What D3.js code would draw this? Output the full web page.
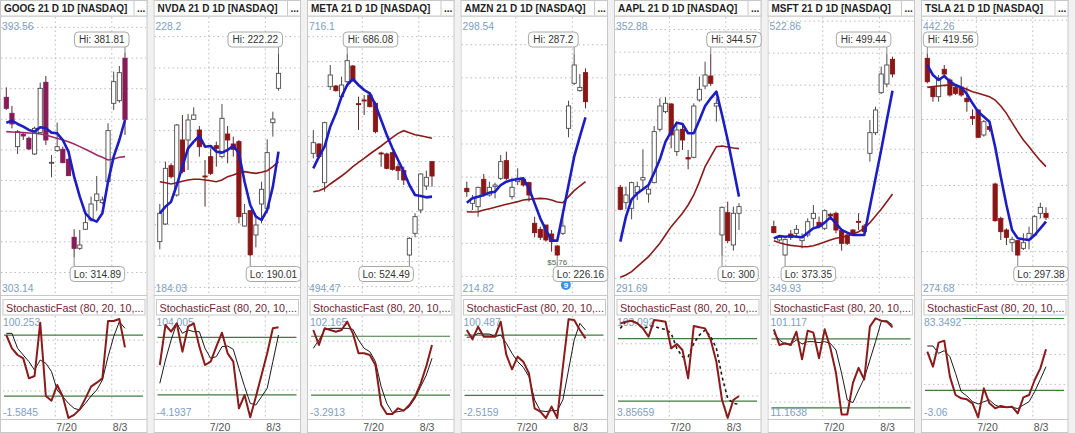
<!DOCTYPE html>
<html><head><meta charset="utf-8">
<script src="https://cdn.jsdelivr.net/npm/d3@7"></script>
<style>
html,body{margin:0;padding:0;background:#fff;}
svg{display:block;font-family:"Liberation Sans",Arial,sans-serif;}
</style></head><body>
<svg id="c" width="1075" height="433"></svg>
<script>
const TICKERS = ["GOOG","NVDA","META","AMZN","AAPL","MSFT","TSLA"];
const TITLE_SUFFIX = " 21 D 1D [NASDAQ]";
const STOCH_TITLE = "StochasticFast (80, 20, 10,...";
const TRADING_DAYS = ["2025-07-08","2025-07-09","2025-07-10","2025-07-11","2025-07-14","2025-07-15","2025-07-16","2025-07-17","2025-07-18","2025-07-21","2025-07-22","2025-07-23","2025-07-24","2025-07-25","2025-07-28","2025-07-29","2025-07-30","2025-07-31","2025-08-01","2025-08-04","2025-08-05","2025-08-06"];
const DATE_TICKS = ["2025-07-20","2025-08-03"];
const DATE_TICK_LABELS = ["7/20","8/3"];
const PRICE_MIN = [303.14,184.03,494.47,214.82,291.69,349.93,274.68];
const PRICE_MAX = [393.56,228.2,716.1,298.54,352.88,522.86,442.26];
const PRICE_MIN_TEXT = ["303.14","184.03","494.47","214.82","291.69","349.93","274.68"];
const PRICE_MAX_TEXT = ["393.56","228.2","716.1","298.54","352.88","522.86","442.26"];
const HI_TEXT = ["381.81","222.22","686.08","287.2","344.57","499.44","419.56"];
const LO_TEXT = ["314.89","190.01","524.49","226.16","300","373.35","297.38"];
const STOCH_MIN = [-1.5845,-4.1937,-3.2913,-2.5159,3.85659,11.1638,-3.06];
const STOCH_MAX = [100.253,104.005,102.165,100.487,103.092,101.117,83.3492];
const STOCH_MIN_TEXT = ["-1.5845","-4.1937","-3.2913","-2.5159","3.85659","11.1638","-3.06"];
const STOCH_MAX_TEXT = ["100.253","104.005","102.165","100.487","103.092","101.117","83.3492"];
const STOCH_LEVELS = [80,20];
const STOCH_GRID = [25,50,75];
const AMZN_NOTE = "$5.76";

// [open, high, low, close]
const GOOG_OHLC = [[367.18,370.44,363.05,363.59],[361.96,364.35,357.06,358.48],[351.08,356.52,348.68,355.98],[355.10,355.65,353.25,354.56],[353.80,354.34,349.99,350.32],[348.68,357.61,348.36,357.06],[355.65,371.97,355.43,370.12],[372.08,374.14,351.62,353.25],[345.86,348.36,341.07,345.96],[349.77,358.91,349.45,351.08],[350.21,351.08,345.64,345.86],[346.94,347.27,341.50,341.61],[321.48,324.10,314.89,317.89],[317.89,323.88,317.35,318.98],[324.10,329.32,323.88,326.27],[327.14,334.76,326.60,332.36],[333.45,341.50,330.19,335.63],[332.80,334.76,332.36,333.67],[339.65,358.69,339.33,356.30],[365.22,375.56,363.05,372.29],[366.09,377.41,365.44,375.23],[379.91,381.81,354.89,360.00]];
const GOOG_FAST = [358.91,359.56,358.48,357.61,356.52,355.98,357.39,357.06,355.65,355.43,353.25,349.45,341.29,334.76,329.32,327.36,326.60,329.32,339.65,347.81,353.25,359.78];
const GOOG_SLOW = [355.98,355.87,355.76,355.65,355.54,355.43,355.21,354.89,354.34,353.80,353.25,352.71,351.95,351.08,350.21,349.34,348.36,347.60,346.73,347.05,347.60,347.82];
const GOOG_K = [80.08,66.96,60.4,57.1,37.44,39.74,92.22,20.06,15.46,30.88,19.4,-1.58,1.5,6.93,17.76,29.24,33.17,37.44,93.86,93.86,95.83,67.94];
const GOOG_D = [81.72,81.72,66.96,60.4,53.84,45.64,55.48,52.2,44.0,25.96,19.4,12.84,7.92,6.28,12.84,20.06,25.96,35.8,58.76,78.44,93.2,86.64];

const NVDA_OHLC = [[192.30,198.30,191.07,196.81],[195.11,205.05,194.95,203.99],[204.41,204.79,202.39,202.66],[199.74,211.06,199.47,210.90],[208.51,212.49,203.19,203.46],[208.51,212.65,203.72,211.70],[211.80,213.72,211.70,212.49],[210.10,210.74,205.85,207.44],[202.77,205.32,197.88,202.61],[205.85,207.18,202.93,203.19],[207.60,208.24,204.26,207.18],[205.85,214.25,205.58,211.96],[209.46,210.74,204.79,208.51],[207.87,209.04,205.85,207.02],[208.24,208.51,195.22,196.28],[194.79,198.30,194.69,196.81],[197.24,197.35,190.01,190.20],[193.36,196.02,191.39,194.95],[198.30,201.86,195.22,200.64],[197.61,208.61,196.81,206.49],[211.27,213.02,209.04,211.85],[216.75,222.22,216.37,219.14]];
const NVDA_FAST = [196.81,197.88,198.67,201.33,204.26,207.18,208.24,209.15,207.44,207.55,206.65,206.49,206.91,207.60,206.38,201.86,198.14,196.28,195.75,197.35,201.07,206.65];
const NVDA_SLOW = [201.86,201.70,201.49,201.70,201.92,202.13,202.24,202.24,202.13,202.02,201.86,202.13,202.66,202.93,203.30,203.46,203.30,203.19,203.35,203.62,204.26,205.05];
const NVDA_K = [51.22,93.03,86.06,94.77,65.15,91.28,94.77,70.38,51.22,54.69,70.38,85.01,63.40,54.69,5.90,19.84,-3.5,18.1,40.75,63.40,89.54,90.59];
const NVDA_D = [32.04,56.43,77.34,94.77,84.31,87.80,86.06,86.06,68.63,58.18,59.92,70.38,71.07,67.59,47.72,28.55,11.13,9.39,18.10,26.81,54.69,82.57];

const META_OHLC = [[606.62,625.29,602.62,615.15],[614.09,614.62,602.62,603.95],[583.15,631.96,575.95,631.15],[659.96,677.29,657.29,669.29],[660.49,661.29,655.96,656.76],[651.96,667.96,649.29,661.29],[663.96,686.08,662.63,680.76],[676.49,677.29,663.96,665.29],[646.36,651.96,625.29,645.82],[649.29,653.29,637.29,648.76],[653.29,654.62,643.42,643.96],[646.62,647.96,622.62,623.96],[606.89,607.95,595.95,606.36],[606.09,607.15,593.82,594.62],[607.15,607.95,592.75,593.82],[595.95,598.62,585.28,592.75],[592.75,595.95,581.28,585.28],[525.28,539.43,524.49,538.62],[542.61,558.62,539.43,555.95],[561.28,590.61,558.62,590.08],[580.48,592.75,577.28,587.42],[599.95,599.95,579.95,588.48]];
const META_FAST = [594.62,603.95,611.95,627.95,638.62,651.96,661.29,666.09,661.29,657.29,654.62,645.29,633.29,621.29,610.62,601.29,591.95,581.28,573.28,572.48,571.41,571.95];
const META_SLOW = [575.95,576.75,578.62,582.09,585.28,588.48,591.95,595.95,599.42,602.62,606.09,609.28,612.48,615.95,619.42,622.62,624.75,623.15,621.55,620.75,619.69,618.62];
const META_K = [86.37,71.09,88.07,86.37,84.67,86.37,94.86,82.98,62.60,62.60,60.90,50.72,9.97,0.8,0.8,6.57,4.19,9.97,18.45,32.03,49.69,71.09];
const META_D = [67.70,76.19,86.37,88.07,88.07,88.07,88.07,87.05,76.19,67.70,64.30,54.12,28.65,11.67,2.16,3.18,4.19,8.27,16.76,28.65,40.53,57.51];

const AMZN_OHLC = [[246.61,248.62,244.09,245.60],[242.07,244.59,240.06,243.58],[241.06,247.11,238.04,246.91],[249.33,250.94,244.09,244.89],[244.59,248.62,244.09,246.91],[247.11,248.32,243.58,247.61],[249.63,256.68,249.13,254.67],[254.97,257.69,249.13,249.63],[244.09,249.63,243.28,246.91],[248.62,252.65,247.61,249.63],[249.33,249.63,247.11,247.61],[248.32,248.62,242.58,244.59],[236.03,238.04,231.80,233.21],[234.21,235.02,230.99,231.80],[235.52,235.52,230.49,230.99],[232.80,234.01,227.46,230.49],[229.17,229.48,226.16,226.46],[233.00,239.55,232.50,235.22],[264.74,273.10,262.02,271.49],[278.34,287.20,277.84,283.88],[276.13,281.16,275.82,277.13],[281.57,282.88,270.79,272.80]];
const AMZN_FAST = [242.27,243.58,244.09,244.59,245.30,245.60,247.61,248.62,249.13,249.33,249.63,246.61,242.07,237.54,234.01,230.79,230.79,239.05,247.61,256.18,262.22,268.06];
const AMZN_SLOW = [239.55,239.45,239.55,240.06,240.46,240.86,241.37,241.77,242.17,242.58,243.08,243.28,243.48,243.58,243.48,243.08,242.48,242.27,244.09,245.90,247.31,248.62];
const AMZN_K = [85.06,75.77,88.38,78.43,78.43,78.43,93.36,60.19,45.92,58.53,53.55,41.94,7.12,3.80,-2.5,8.77,-2.5,48.5,95.68,95.01,85.06,76.77];
const AMZN_D = [77.77,78.43,81.75,81.08,81.08,78.43,80.09,71.80,61.85,53.55,47.91,38.62,15.40,4.80,3.80,4.80,4.80,15.40,45.26,75.11,91.70,85.06];

const AAPL_OHLC = [[315.15,315.66,310.14,310.29],[311.76,315.30,310.29,313.46],[310.51,316.40,308.08,316.18],[313.97,316.40,312.35,315.30],[316.77,323.54,314.93,317.29],[313.68,315.66,311.76,314.71],[316.18,328.70,316.03,327.45],[327.96,334.81,327.45,333.11],[331.86,335.03,331.50,333.70],[333.56,333.70,323.77,326.71],[323.03,329.66,322.07,327.81],[327.96,329.29,323.40,325.60],[321.70,323.40,319.13,321.41],[321.78,333.70,321.56,333.11],[334.44,339.60,334.07,336.80],[337.53,342.91,336.80,339.96],[339.74,344.57,337.53,338.12],[333.11,334.81,329.66,333.70],[304.62,310.88,300.00,310.73],[309.55,311.98,302.78,303.37],[302.41,310.88,301.16,309.41],[309.41,311.62,305.73,310.88]];
const AAPL_FAST = [303.15,308.67,312.50,313.82,314.71,315.66,318.39,321.34,325.24,327.45,329.43,329.14,327.08,327.08,330.02,333.11,334.81,336.28,331.13,325.60,319.35,313.09];
const AAPL_SLOW = [295.27,295.78,296.52,297.63,298.73,299.84,301.31,302.78,304.62,306.46,307.93,309.41,311.25,313.46,316.40,319.71,321.92,324.13,324.28,324.06,323.84,323.69];
const AAPL_K = [94.6,96.2,97.1,94.6,89.8,81.8,97.8,97.1,96.2,70.6,74.8,69.0,41.9,92.0,90.8,89.8,78.6,57.8,21.1,4.0,21.1,24.9];
const AAPL_D = [89.8,96.2,97.1,94.6,89.8,91.4,92.0,89.8,88.8,85.0,70.6,62.6,62.6,75.4,83.4,88.2,81.8,70.6,43.5,22.7,17.9,16.9];

const MSFT_OHLC = [[391.65,395.40,387.49,387.91],[383.33,386.45,382.29,385.00],[373.96,384.37,373.35,383.74],[387.07,389.57,383.33,385.00],[387.49,392.69,385.00,389.99],[382.91,387.49,378.12,385.00],[386.45,396.85,385.00,394.77],[396.85,405.18,391.65,399.98],[394.36,397.90,390.61,391.65],[390.61,402.47,389.57,401.64],[399.35,400.39,395.81,398.31],[399.98,401.02,387.49,389.57],[389.15,390.61,376.67,381.25],[386.45,387.49,380.21,381.25],[389.57,389.99,387.07,387.49],[394.98,399.98,389.57,394.57],[392.07,393.32,387.91,388.53],[437.43,458.25,432.23,450.34],[450.34,466.57,448.88,464.49],[475.31,491.54,474.47,486.96],[480.72,499.44,478.64,492.58],[496.12,497.78,484.88,486.96]];
const MSFT_FAST = [384.37,385.83,385.41,385.83,385.41,385.00,387.91,390.61,391.65,394.15,397.48,393.73,389.57,387.91,386.45,386.45,386.45,404.14,421.82,439.51,458.28,476.56];
const MSFT_SLOW = [382.91,381.66,380.62,379.99,379.58,379.16,379.16,379.79,380.83,382.08,383.33,384.37,384.99,385.83,387.07,388.53,390.61,394.15,398.31,402.47,407.26,412.05];
const MSFT_K = [88.23,74.61,76.06,74.61,86.20,62.15,87.07,85.33,63.02,88.23,72.16,50.43,14.23,14.23,41.74,54.78,44.64,90.54,97.79,95.76,94.89,89.96];
const MSFT_D = [84.75,78.96,75.48,75.48,78.96,75.48,77.51,77.51,76.64,77.51,76.06,70.27,49.99,26.81,24.49,35.50,45.64,61.57,77.51,94.89,95.76,91.99];

const TSLA_OHLC = [[416.95,419.56,401.83,402.83],[399.40,400.21,390.73,393.76],[393.76,406.87,390.73,404.25],[410.29,412.92,406.87,407.47],[403.84,404.85,393.76,394.77],[399.40,400.82,394.77,395.78],[399.40,405.86,393.76,394.77],[392.75,399.40,384.68,390.73],[381.66,386.10,376.62,380.65],[385.69,386.10,368.96,369.16],[370.57,379.64,369.56,378.63],[375.61,376.62,372.58,374.00],[340.92,341.73,318.14,318.74],[320.15,321.16,307.04,312.09],[313.09,314.10,304.02,308.66],[305.43,309.06,299.99,307.45],[306.64,307.04,297.38,297.97],[302.00,311.08,300.99,305.43],[307.45,315.11,301.40,311.08],[310.07,322.17,309.06,321.16],[323.18,329.63,320.15,326.81],[323.18,326.81,319.14,320.76]];
const TSLA_FAST = [412.92,406.87,403.84,406.26,402.83,400.82,399.40,395.37,389.73,384.68,381.66,378.63,363.51,345.36,328.22,313.09,308.05,307.45,307.04,310.07,314.10,318.14];
const TSLA_SLOW = [399.40,399.81,400.21,400.62,400.82,400.62,399.40,398.20,396.78,395.78,394.77,393.76,391.74,388.11,383.68,378.03,372.59,367.54,363.51,359.07,355.04,351.41];
const TSLA_K = [52.32,39.80,59.83,61.50,31.45,16.14,13.36,12.52,9.18,-2.5,21.71,9.18,5.01,6.96,5.85,6.40,0.84,14.19,16.14,28.66,38.40,54.27];
const TSLA_D = [57.05,57.05,50.93,53.15,48.14,34.23,18.92,15.30,10.57,8.62,10.57,11.96,7.79,5.85,5.85,5.85,4.82,7.79,10.57,18.92,29.22,39.80];

const ALL_OHLC = [GOOG_OHLC,NVDA_OHLC,META_OHLC,AMZN_OHLC,AAPL_OHLC,MSFT_OHLC,TSLA_OHLC];
const ALL_FAST = [GOOG_FAST,NVDA_FAST,META_FAST,AMZN_FAST,AAPL_FAST,MSFT_FAST,TSLA_FAST];
const ALL_SLOW = [GOOG_SLOW,NVDA_SLOW,META_SLOW,AMZN_SLOW,AAPL_SLOW,MSFT_SLOW,TSLA_SLOW];
const ALL_K = [GOOG_K,NVDA_K,META_K,AMZN_K,AAPL_K,MSFT_K,TSLA_K];
const ALL_D = [GOOG_D,NVDA_D,META_D,AMZN_D,AAPL_D,MSFT_D,TSLA_D];

// ---------- drawing ----------
const PITCH = 153.5, PW = 147;
const DOWN_COLOR = ["#861c58","#8b1616","#8b1616","#8b1616","#8b1616","#8b1616","#8b1616"];
const SLOW_COLOR = ["#9a2c6c","#8b1a1a","#8b1a1a","#8b1a1a","#8b1a1a","#8b1a1a","#8b1a1a"];
const LABEL_BLUE = "#7d9ec2";
const GRID = "#bdbdbd";
const BORDER = "#c8c8c8";

const parse = d3.timeParse("%Y-%m-%d");
const days = TRADING_DAYS.map(parse);
function dateIndex(d){
  for(let i=0;i<days.length-1;i++){
    if(d>=days[i] && d<=days[i+1]) return i + (d-days[i])/(days[i+1]-days[i]);
  }
  return null;
}
const tickIdx = DATE_TICKS.map(s=>dateIndex(parse(s)));

const svg = d3.select("#c");
svg.append("rect").attr("width",1075).attr("height",433).attr("fill","#f1f1f1");
const defs = svg.append("defs");

TICKERS.forEach((tk,i)=>{
  const ohlc = ALL_OHLC[i], fast = ALL_FAST[i], slow = ALL_SLOW[i], K = ALL_K[i], D = ALL_D[i];
  const g = svg.append("g").attr("transform",`translate(${i*PITCH},0)`);
  const cid = "clip"+i, pid = "pclip"+i, sid = "sclip"+i;
  defs.append("clipPath").attr("id",cid).append("rect").attr("x",0).attr("y",0).attr("width",150).attr("height",433);
  defs.append("clipPath").attr("id",pid).append("rect").attr("x",0).attr("y",16.5).attr("width",PW).attr("height",277.5);
  defs.append("clipPath").attr("id",sid).append("rect").attr("x",0).attr("y",313).attr("width",PW).attr("height",106);

  const x = d3.scaleLinear().domain([0, ohlc.length-1]).range([6.3,125]);
  const y = d3.scaleLinear().domain([PRICE_MIN[i],PRICE_MAX[i]]).range([293.5,16.5]);
  const ys = d3.scaleLinear().domain([STOCH_MIN[i],STOCH_MAX[i]]).range([418,314.5]);

  const root = g.append("g").attr("clip-path",`url(#${cid})`);
  root.append("rect").attr("x",0).attr("y",0).attr("width",PW).attr("height",433).attr("fill","#fff");

  // price grid
  const pg = root.append("g");
  pg.selectAll("line.h").data(y.ticks(10)).join("line")
    .attr("x1",1).attr("x2",PW-1).attr("y1",d=>y(d)).attr("y2",d=>y(d))
    .attr("stroke",GRID).attr("stroke-dasharray","1.5,3");
  pg.selectAll("line.v").data(tickIdx).join("line")
    .attr("x1",d=>x(d)).attr("x2",d=>x(d)).attr("y1",17).attr("y2",293)
    .attr("stroke",GRID).attr("stroke-dasharray","1.5,3");

  // stoch grid
  const sg = root.append("g");
  sg.selectAll("line.h").data(STOCH_GRID).join("line")
    .attr("x1",3).attr("x2",PW-3).attr("y1",d=>ys(d)).attr("y2",d=>ys(d))
    .attr("stroke",GRID).attr("stroke-dasharray","1.5,3");
  sg.selectAll("line.v").data(tickIdx).join("line")
    .attr("x1",d=>x(d)).attr("x2",d=>x(d)).attr("y1",316).attr("y2",418)
    .attr("stroke",GRID).attr("stroke-dasharray","1.5,3");

  // panel frame
  root.append("rect").attr("x",0.5).attr("y",0.5).attr("width",PW-0.5).attr("height",432)
    .attr("fill","none").attr("stroke",BORDER);
  [16,295.5,419.5].forEach(yy=>root.append("line").attr("x1",0).attr("x2",PW).attr("y1",yy).attr("y2",yy).attr("stroke",BORDER));

  // price labels
  root.append("text").attr("x",2).attr("y",30).attr("font-size",10.3).attr("fill",LABEL_BLUE).text(PRICE_MAX_TEXT[i]);
  root.append("text").attr("x",2).attr("y",291.5).attr("font-size",10.3).attr("fill",LABEL_BLUE).text(PRICE_MIN_TEXT[i]);

  // candles
  const pc = root.append("g").attr("clip-path",`url(#${pid})`);
  const cg = pc.selectAll("g.c").data(ohlc).join("g");
  cg.append("line").attr("x1",(d,j)=>x(j)).attr("x2",(d,j)=>x(j))
    .attr("y1",d=>y(d[1])).attr("y2",d=>y(d[2]))
    .attr("stroke",d=>d[3]>=d[0]?"#4a4a4a":"#5a2a2a").attr("stroke-width",1);
  cg.append("rect").attr("x",(d,j)=>x(j)-2.1).attr("width",4.2)
    .attr("y",d=>Math.min(y(d[0]),y(d[3])))
    .attr("height",d=>Math.max(1,Math.abs(y(d[0])-y(d[3]))))
    .attr("fill",d=>d[3]>=d[0]?"#fff":DOWN_COLOR[i])
    .attr("stroke",d=>d[3]>=d[0]?"#4a4a4a":DOWN_COLOR[i]).attr("stroke-width",0.9);

  pc.append("path").datum(slow).attr("d",d3.line().x((d,j)=>x(j)).y(d=>y(d))).attr("fill","none")
    .attr("stroke",SLOW_COLOR[i]).attr("stroke-width",1.6);
  pc.append("path").datum(fast).attr("d",d3.line().x((d,j)=>x(j)).y(d=>y(d))).attr("fill","none")
    .attr("stroke","#1d1dc4").attr("stroke-width",2.6).attr("stroke-linejoin","round");

  // AMZN extras
  if(tk==="AMZN"){
    const li = d3.minIndex(ohlc,d=>d[2]);
    root.append("text").attr("x",x(li)).attr("y",y(ohlc[li][2])+9).attr("text-anchor","middle")
      .attr("font-size",8).attr("fill","#4f6b4f").text(AMZN_NOTE);
    root.append("circle").attr("cx",x(li+1)+3).attr("cy",285).attr("r",5).attr("fill","#3d8fe0");
    root.append("text").attr("x",x(li+1)+3).attr("y",288).attr("text-anchor","middle")
      .attr("font-size",8).attr("font-weight","bold").attr("fill","#fff").text("9");
  }

  // Hi / Lo callouts
  function callout(idx, val, txt, isHi){
    const cx = x(idx), vy = y(val);
    const t = (isHi?"Hi: ":"Lo: ")+txt;
    const tw = t.length*4.75 + 7;
    const right = cx + tw - 4 <= 150;
    const bx = right ? cx - 4 : cx + 4 - tw;
    const by = isHi ? 32 : 266.5;
    const bh = 15;
    const px = right ? bx + 4 : bx + tw - 4;
    root.append("line").attr("x1",px).attr("x2",cx).attr("y1",isHi?by+bh:by).attr("y2",vy)
      .attr("stroke","#8a8a8a").attr("stroke-width",1);
    root.append("rect").attr("x",bx).attr("y",by).attr("width",tw).attr("height",bh).attr("rx",4)
      .attr("fill","#fff").attr("stroke","#a8a8a8");
    root.append("text").attr("x",bx+tw/2).attr("y",by+11).attr("text-anchor","middle")
      .attr("font-size",10).attr("fill","#333").text(t);
  }
  const hi = d3.maxIndex(ohlc,d=>d[1]), lo = d3.minIndex(ohlc,d=>d[2]);
  callout(hi, ohlc[hi][1], HI_TEXT[i], true);
  callout(lo, ohlc[lo][2], LO_TEXT[i], false);

  // title box
  root.append("rect").attr("x",0.5).attr("y",0.5).attr("width",PW-0.5).attr("height",15.5)
    .attr("fill","#fff").attr("stroke",BORDER);
  root.append("text").attr("x",4).attr("y",12).attr("font-size",10).attr("font-weight","bold")
    .attr("fill","#1e1e1e").text(tk+TITLE_SUFFIX);
  root.append("line").attr("x1",134).attr("x2",134).attr("y1",1).attr("y2",15.5).attr("stroke",BORDER);
  root.append("text").attr("x",137).attr("y",12).attr("font-size",10).attr("font-weight","bold")
    .attr("fill","#1e1e1e").text("...");

  // stochastic pane
  const sp = root.append("g").attr("clip-path",`url(#${sid})`);
  sp.selectAll("line.lv").data(STOCH_LEVELS).join("line")
    .attr("x1",4).attr("x2",143).attr("y1",d=>ys(d)).attr("y2",d=>ys(d))
    .attr("stroke","#3f7a3f").attr("stroke-width",1.2);
  const topLbl = sp.append("text").attr("x",3).attr("y",326).attr("font-size",10.3).attr("fill",LABEL_BLUE).text(STOCH_MAX_TEXT[i]);
  const bb = topLbl.node().getBBox();
  sp.insert("rect", () => topLbl.node()).attr("x",bb.x).attr("y",bb.y+1).attr("width",bb.width+1).attr("height",bb.height-2).attr("fill","#fff");
  sp.append("text").attr("x",3).attr("y",416).attr("font-size",10.3).attr("fill",LABEL_BLUE).text(STOCH_MIN_TEXT[i]);
  const sline = d3.line().x((d,j)=>x(j)).y(d=>ys(d));
  sp.append("path").datum(D).attr("d",sline).attr("fill","none")
    .attr("stroke","#1a1a1a").attr("stroke-width",tk==="AAPL"?1.6:1)
    .attr("stroke-dasharray",tk==="AAPL"?"3,3":null);
  sp.append("path").datum(K).attr("d",sline).attr("fill","none")
    .attr("stroke","#8b1a1a").attr("stroke-width",2).attr("stroke-linejoin","round");

  root.append("rect").attr("x",3).attr("y",299.5).attr("width",142).attr("height",15.5)
    .attr("fill","#fff").attr("stroke",BORDER);
  root.append("text").attr("x",6).attr("y",311.5).attr("font-size",10.8).attr("fill","#6e2636").text(STOCH_TITLE);

  // date labels
  root.selectAll("text.dl").data(tickIdx).join("text")
    .attr("x",d=>x(d)+1).attr("y",430.5).attr("font-size",10.5).attr("fill","#555")
    .text((d,j)=>DATE_TICK_LABELS[j]);
});
</script>
</body></html>
